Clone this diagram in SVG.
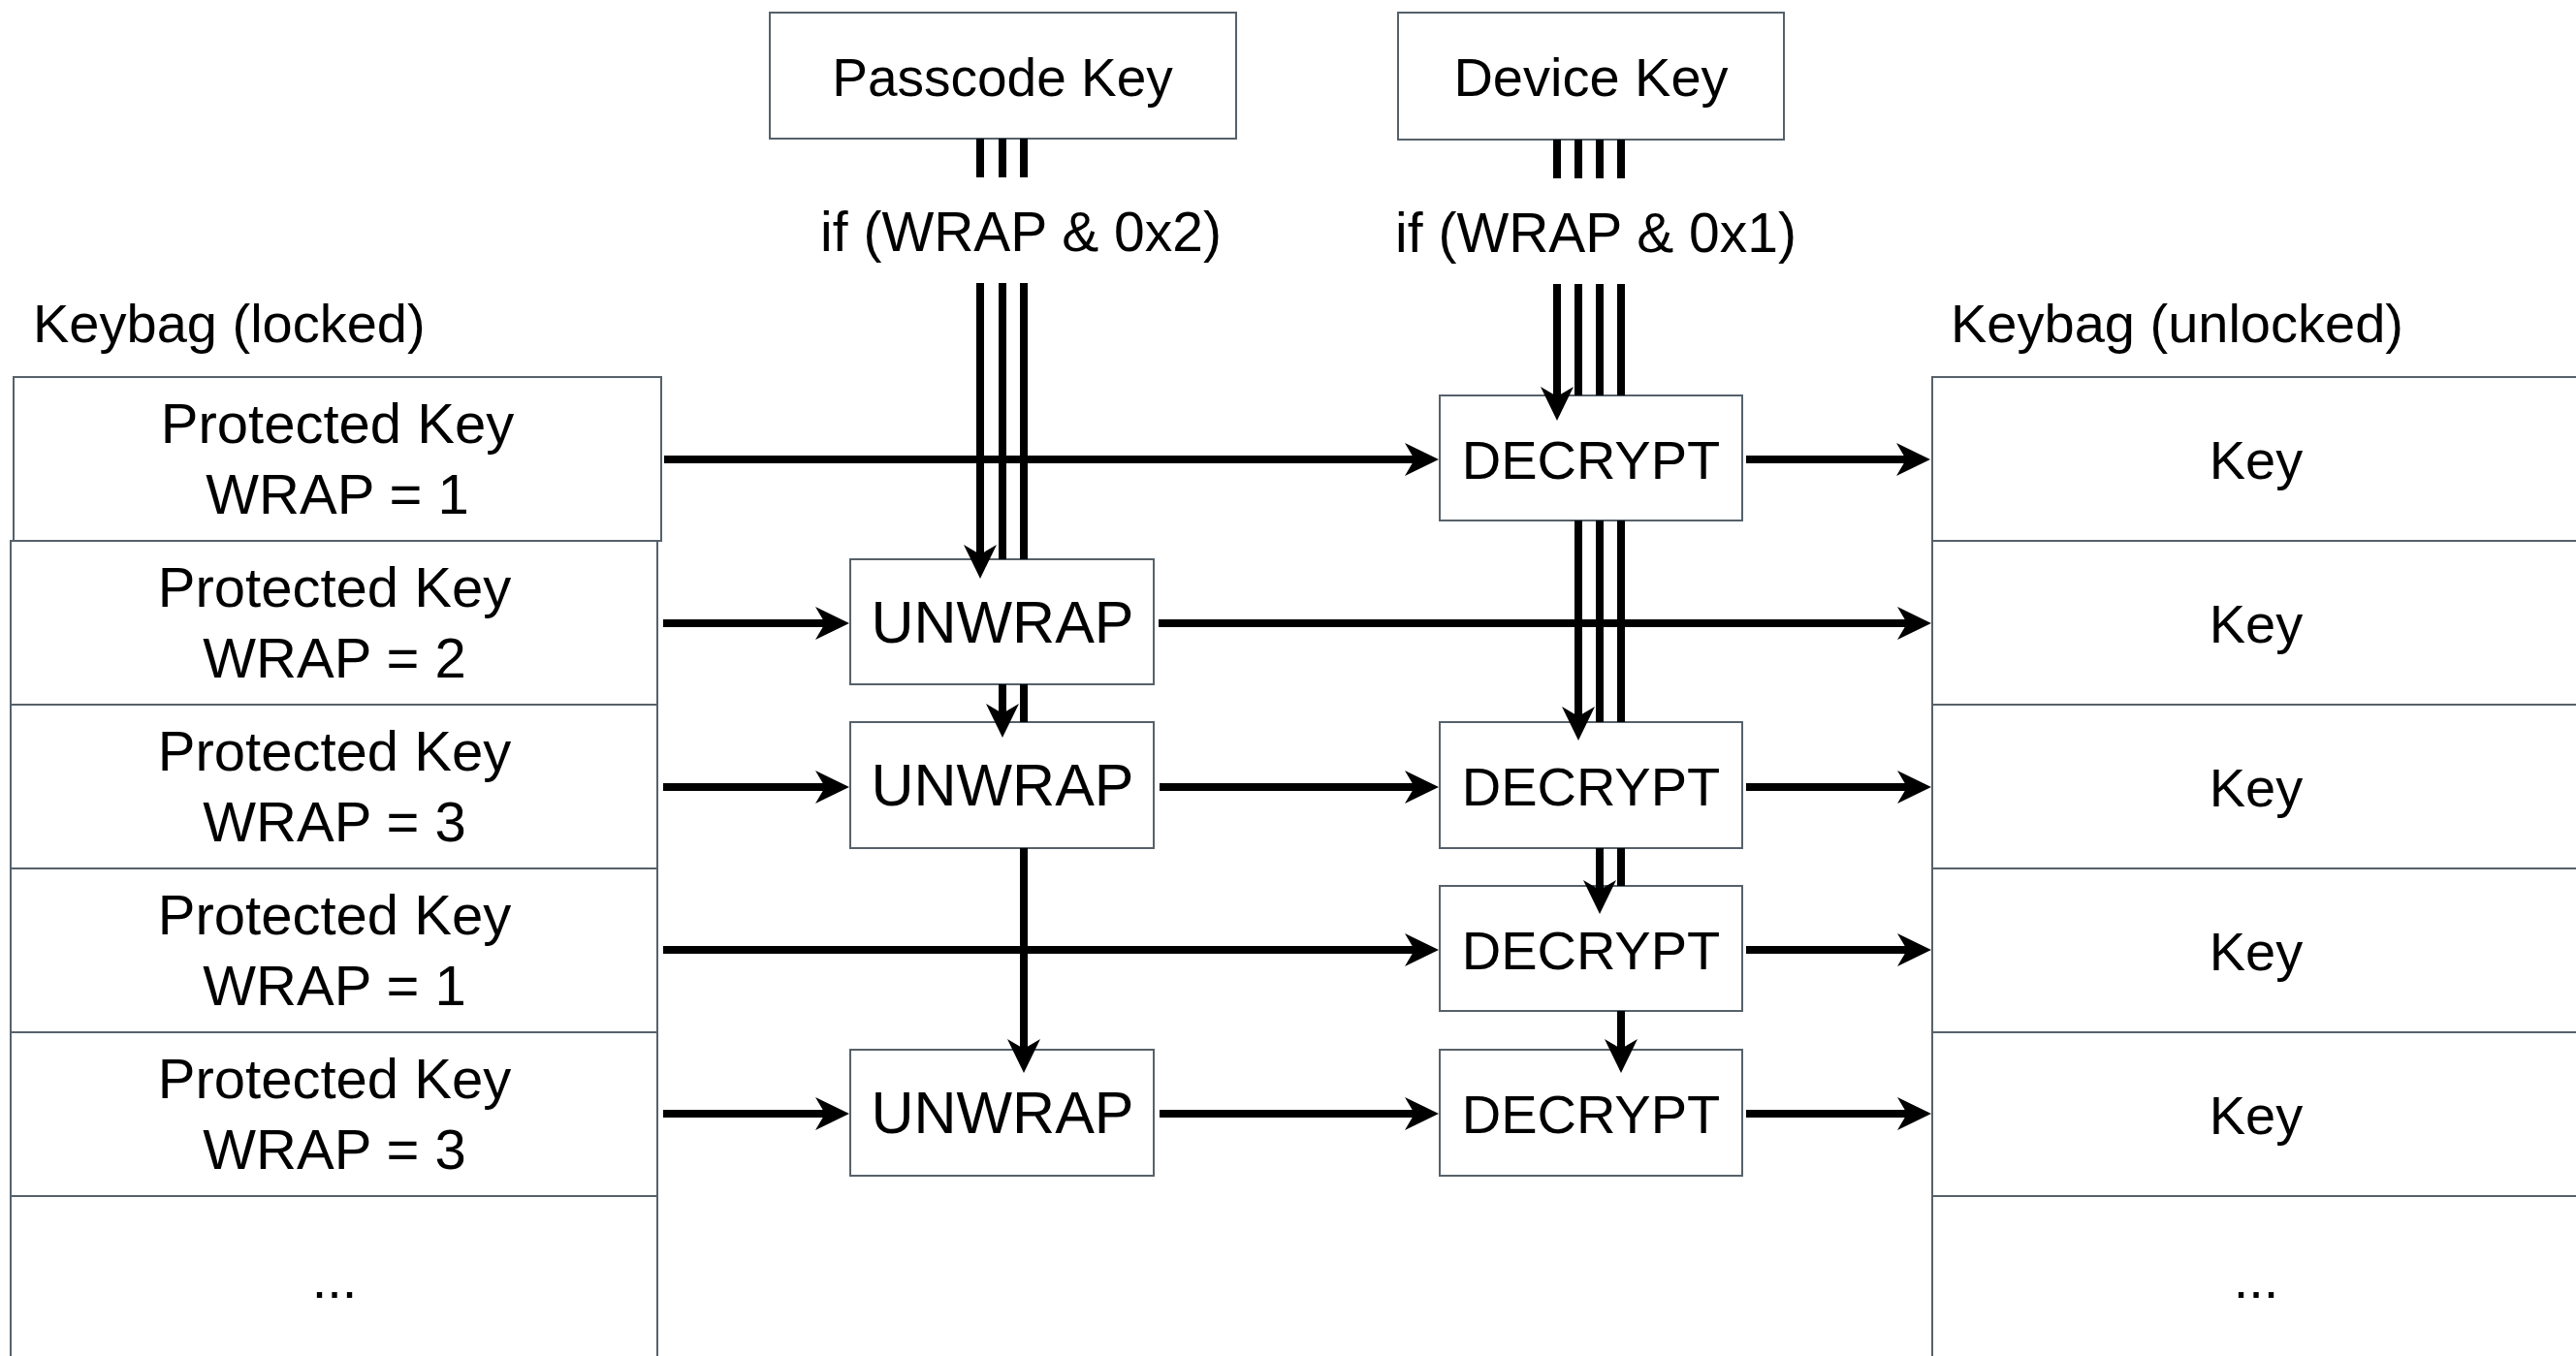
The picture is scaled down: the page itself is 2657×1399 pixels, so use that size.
<svg xmlns="http://www.w3.org/2000/svg" width="2657" height="1399" viewBox="0 0 2657 1399">
  <style>
    .box { fill: #ffffff; stroke: #56616a; stroke-width: 2; }
    .t { font-family: "Liberation Sans", Arial, sans-serif; fill: #000000; text-anchor: middle; }
    .pk { font-size: 58px; }
    .lbl { font-family: "Liberation Sans", Arial, sans-serif; fill: #000000; font-size: 56px; }
    .w { stroke: #000000; stroke-width: 8; fill: none; }
    .a { stroke: #000000; stroke-width: 8; fill: none; marker-end: url(#ah); }
  </style>
  <defs>
    <marker id="ah" viewBox="-12 -18 38 36" refX="0" refY="0" markerWidth="38" markerHeight="36" markerUnits="userSpaceOnUse" orient="auto">
      <path d="M25,0 L-10,-17 L0,0 L-10,17 Z" fill="#000000"/>
    </marker>
  </defs>
  <rect width="2657" height="1399" fill="#ffffff"/>

  <!-- section titles -->
  <text class="lbl" x="34" y="353">Keybag (locked)</text>
  <text class="lbl" x="2012" y="353">Keybag (unlocked)</text>
  <text class="t" x="1053" y="259" font-size="57">if (WRAP &amp; 0x2)</text>
  <text class="t" x="1646" y="260" font-size="57">if (WRAP &amp; 0x1)</text>

  <!-- key sources -->
  <g id="passcode-key">
    <rect class="box" x="794" y="13" width="481" height="130"/>
    <text class="t" x="1034" y="99" font-size="55">Passcode Key</text>
  </g>
  <g id="device-key">
    <rect class="box" x="1442" y="13" width="398" height="131"/>
    <text class="t" x="1641" y="99" font-size="56">Device Key</text>
  </g>

  <!-- locked keybag entries -->
  <g id="locked-1">
    <rect class="box" x="14" y="389" width="668" height="169"/>
    <text class="t pk" x="348" y="457">Protected Key</text>
    <text class="t pk" x="348" y="530">WRAP = 1</text>
  </g>
  <g id="locked-2">
    <rect class="box" x="11" y="558" width="667" height="169"/>
    <text class="t pk" x="345" y="626">Protected Key</text>
    <text class="t pk" x="345" y="699">WRAP = 2</text>
  </g>
  <g id="locked-3">
    <rect class="box" x="11" y="727" width="667" height="169"/>
    <text class="t pk" x="345" y="795">Protected Key</text>
    <text class="t pk" x="345" y="868">WRAP = 3</text>
  </g>
  <g id="locked-4">
    <rect class="box" x="11" y="896" width="667" height="169"/>
    <text class="t pk" x="345" y="964">Protected Key</text>
    <text class="t pk" x="345" y="1037">WRAP = 1</text>
  </g>
  <g id="locked-5">
    <rect class="box" x="11" y="1065" width="667" height="169"/>
    <text class="t pk" x="345" y="1133">Protected Key</text>
    <text class="t pk" x="345" y="1206">WRAP = 3</text>
  </g>
  <g id="locked-more">
    <rect class="box" x="11" y="1234" width="667" height="200"/>
    <text class="t" x="345" y="1339" font-size="56">...</text>
  </g>

  <!-- unlocked keybag entries -->
  <g id="unlocked-1">
    <rect class="box" x="1993" y="389" width="668" height="169"/>
    <text class="t" x="2327" y="494" font-size="56">Key</text>
  </g>
  <g id="unlocked-2">
    <rect class="box" x="1993" y="558" width="668" height="169"/>
    <text class="t" x="2327" y="663" font-size="56">Key</text>
  </g>
  <g id="unlocked-3">
    <rect class="box" x="1993" y="727" width="668" height="169"/>
    <text class="t" x="2327" y="832" font-size="56">Key</text>
  </g>
  <g id="unlocked-4">
    <rect class="box" x="1993" y="896" width="668" height="169"/>
    <text class="t" x="2327" y="1001" font-size="56">Key</text>
  </g>
  <g id="unlocked-5">
    <rect class="box" x="1993" y="1065" width="668" height="169"/>
    <text class="t" x="2327" y="1170" font-size="56">Key</text>
  </g>
  <g id="unlocked-more">
    <rect class="box" x="1993" y="1234" width="668" height="200"/>
    <text class="t" x="2327" y="1339" font-size="56">...</text>
  </g>

  <!-- processing steps -->
  <g id="decrypt-1">
    <rect class="box" x="1485" y="408" width="312" height="129"/>
    <text class="t" x="1641" y="494" font-size="56">DECRYPT</text>
  </g>
  <g id="unwrap-2">
    <rect class="box" x="877" y="577" width="313" height="129"/>
    <text class="t" x="1034" y="663" font-size="61">UNWRAP</text>
  </g>
  <g id="unwrap-3">
    <rect class="box" x="877" y="745" width="313" height="130"/>
    <text class="t" x="1034" y="831" font-size="61">UNWRAP</text>
  </g>
  <g id="decrypt-3">
    <rect class="box" x="1485" y="745" width="312" height="130"/>
    <text class="t" x="1641" y="831" font-size="56">DECRYPT</text>
  </g>
  <g id="decrypt-4">
    <rect class="box" x="1485" y="914" width="312" height="129"/>
    <text class="t" x="1641" y="1000" font-size="56">DECRYPT</text>
  </g>
  <g id="unwrap-5">
    <rect class="box" x="877" y="1083" width="313" height="130"/>
    <text class="t" x="1034" y="1169" font-size="61">UNWRAP</text>
  </g>
  <g id="decrypt-5">
    <rect class="box" x="1485" y="1083" width="312" height="130"/>
    <text class="t" x="1641" y="1169" font-size="56">DECRYPT</text>
  </g>

  <g id="connectors">
    <!-- passcode key bus -->
    <path class="w" d="M1011,143 V183 M1034,143 V183 M1056,143 V183"/>
    <path class="a" d="M1011,292 V572"/>
    <path class="w" d="M1034,292 V577 M1056,292 V577"/>
    <path class="a" d="M1034,706 V736"/>
    <path class="w" d="M1056,706 V745"/>
    <path class="a" d="M1056,875 V1082"/>

    <!-- device key bus -->
    <path class="w" d="M1606,144 V184 M1628,144 V184 M1650,144 V184 M1672,144 V184"/>
    <path class="a" d="M1606,293 V409"/>
    <path class="w" d="M1628,293 V408 M1650,293 V408 M1672,293 V408"/>
    <path class="a" d="M1628,537 V739"/>
    <path class="w" d="M1650,537 V745 M1672,537 V745"/>
    <path class="a" d="M1650,875 V918"/>
    <path class="w" d="M1672,875 V914"/>
    <path class="a" d="M1672,1043 V1082"/>

    <!-- row flows -->
    <path class="a" d="M685,474 H1459"/>
    <path class="a" d="M1801,474 H1966"/>

    <path class="a" d="M684,643 H851"/>
    <path class="a" d="M1195,643 H1967"/>

    <path class="a" d="M684,812 H851"/>
    <path class="a" d="M1196,812 H1459"/>
    <path class="a" d="M1801,812 H1967"/>

    <path class="a" d="M684,980 H1459"/>
    <path class="a" d="M1801,980 H1967"/>

    <path class="a" d="M684,1149 H851"/>
    <path class="a" d="M1196,1149 H1459"/>
    <path class="a" d="M1801,1149 H1967"/>
  </g>
</svg>
